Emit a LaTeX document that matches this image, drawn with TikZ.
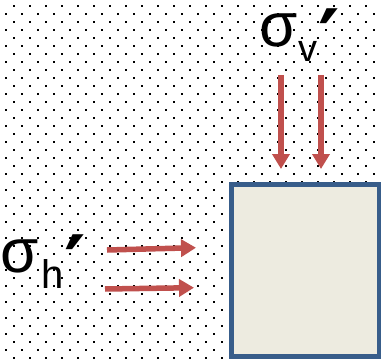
\documentclass[tikz,border=0pt]{standalone}
\usepackage{fontspec}
\setmainfont{Liberation Sans}
\newfontfamily\primefont{DejaVu Sans}
\usetikzlibrary{arrows.meta}
\definecolor{arrowred}{HTML}{C0504D}
\definecolor{boxblue}{HTML}{385D8A}
\definecolor{boxfill}{HTML}{EDEBE0}
\newcommand{\primemark}{{\primefont\bfseries\fontsize{82}{82}\selectfont ′}}
\begin{document}
\begin{tikzpicture}[x=1pt,y=-1pt,
  force/.style={draw=arrowred, line width=5.5pt, -{Triangle[width=17pt,length=15pt]}},
  lab/.style={inner sep=0pt, anchor=base west, font=\fontsize{62}{64}\selectfont},
  dot/.style={fill=black}]
\useasboundingbox (0,0) rectangle (381,359);
\fill[white] (0,0) rectangle (381,359);
\foreach \k in {0,...,44}{
  \pgfmathsetmacro\yy{6+8*\k}
  \pgfmathsetmacro\xo{mod(\k,2)==0 ? 14 : 6}
  \foreach \j in {0,...,23}{
    \fill[dot] (\xo+16*\j-1,\yy-1) rectangle ++(2,2);
  }
}
\node[draw=boxblue, fill=boxfill, line width=5pt, inner sep=0pt,
  minimum width=148pt, minimum height=171.5pt] (box) at (305,270.25) {};
\coordinate (v1s) at (281,75);  \coordinate (v1e) at (281,169);
\coordinate (v2s) at (321,75);  \coordinate (v2e) at (321,169);
\coordinate (h1s) at (107,250); \coordinate (h1e) at (196,247.7);
\coordinate (h2s) at (105,289); \coordinate (h2e) at (194,287.7);
\draw[force] (v1s) -- (v1e);
\draw[force] (v2s) -- (v2e);
\draw[force] (h1s) -- (h1e);
\draw[force] (h2s) -- (h2e);
\node[lab] (sigv) at (259,46) {σ\hspace{1pt}\raisebox{-15pt}{\fontsize{38}{38}\selectfont v}\hspace{1pt}\raisebox{-22pt}{\primemark}};
\node[lab] (sigh) at (0,272) {σ\hspace{3pt}\raisebox{-16pt}{\fontsize{40}{40}\selectfont h}\hspace{1pt}\raisebox{-22pt}{\primemark}};
\end{tikzpicture}
\end{document}
